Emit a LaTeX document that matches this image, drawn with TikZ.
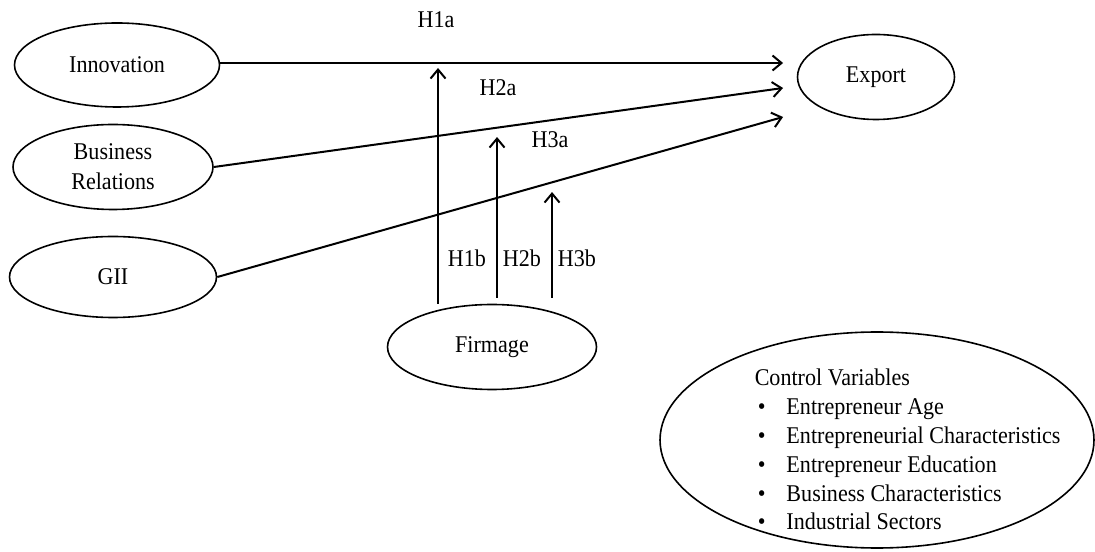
\documentclass[tikz,border=0pt]{standalone}
\usepackage{fontspec}
\setmainfont{Liberation Serif}[FakeStretch=0.92]
\usetikzlibrary{shapes.geometric,arrows.meta}

\tikzset{every picture/.style={line width=0.75pt}}
\tikzset{
  varell/.style={draw, ellipse, line width=0.8pt, inner sep=0pt, align=center, font=\fontsize{12}{15}\selectfont},
  hyplab/.style={inner sep=0.75pt, font=\fontsize{12}{13}\selectfont},
  patharr/.style={line width=1pt, -{Straight Barb[length=4.5pt,width=7.5pt,line width=1pt]}}
}

\begin{document}
\begin{tikzpicture}[x=0.75pt,y=0.75pt,yscale=-0.6667,xscale=0.6667]
	\useasboundingbox (0,0) rectangle (1095,552);
	
	%Shape: Ellipse [id:innov] 
	\node [varell, minimum width=102.5pt, minimum height=42pt] (innov) at (117,65) {Innovation};
	%Shape: Ellipse [id:busrel] 
	\node [varell, minimum width=100pt, minimum height=42.5pt] (busrel) at (113,167) {Business\\Relations};
	%Shape: Ellipse [id:gii] 
	\node [varell, minimum width=103.5pt, minimum height=40.5pt] (gii) at (113,277) {GII};
	%Shape: Ellipse [id:export] 
	\node [varell, minimum width=78.5pt, minimum height=42.5pt] (export) at (876,77) {Export};
	%Shape: Ellipse [id:firm] 
	\node [varell, minimum width=104.5pt, minimum height=42.5pt] (firm) at (492,347) {Firmage};
	%Shape: Ellipse [id:ctrl] 
	\node [varell, minimum width=217pt, minimum height=108pt] (ctrl) at (877,440) {};
	
	%Arrow heads [id:tips] 
	\coordinate (tipa) at (783,63);
	\coordinate (tipb) at (783,88);
	\coordinate (tipc) at (783,117);
	\coordinate (tipone) at (438,68);
	\coordinate (tiptwo) at (497,137);
	\coordinate (tipthree) at (552,192);
	
	%Straight Lines [id:direct] 
	\draw [patharr] (innov.east |- tipa) -- (tipa);
	\draw [patharr] (busrel.east) -- (tipb);
	\draw [patharr] (gii.east) -- (tipc);
	%Straight Lines [id:moderate] 
	\draw [patharr] (firm.north -| tipone) -- (tipone);
	\draw [patharr] (firm.north -| tiptwo) ++(0,-6) -- (tiptwo);
	\draw [patharr] (firm.north -| tipthree) ++(0,-6) -- (tipthree);
	
	% Text Node
	\node [hyplab] (hia) at (436,20) {H1a};
	% Text Node
	\node [hyplab] (hiia) at (498,88) {H2a};
	% Text Node
	\node [hyplab] (hiiia) at (550,140) {H3a};
	% Text Node
	\node [hyplab] (hib) at (467,258) {H1b};
	% Text Node
	\node [hyplab] (hiib) at (522,258) {H2b};
	% Text Node
	\node [hyplab] (hiiib) at (577,258) {H3b};
	% Text Node
	\node [anchor=north west, inner sep=0pt, font=\fontsize{12}{14.4}\selectfont] (ctrltext) at (754,365) {%
		\renewcommand{\arraystretch}{1.0}%
		\begin{tabular}{@{\hspace{1.5pt}}l@{\hspace{10.5pt}}l@{}}
			\multicolumn{2}{@{}l@{}}{Control Variables}\\
			\textbullet & Entrepreneur Age\\
			\textbullet & Entrepreneurial Characteristics\\
			\textbullet & Entrepreneur Education\\
			\textbullet & Business Characteristics\\
			\textbullet & Industrial Sectors
		\end{tabular}};
	
\end{tikzpicture}
\end{document}
